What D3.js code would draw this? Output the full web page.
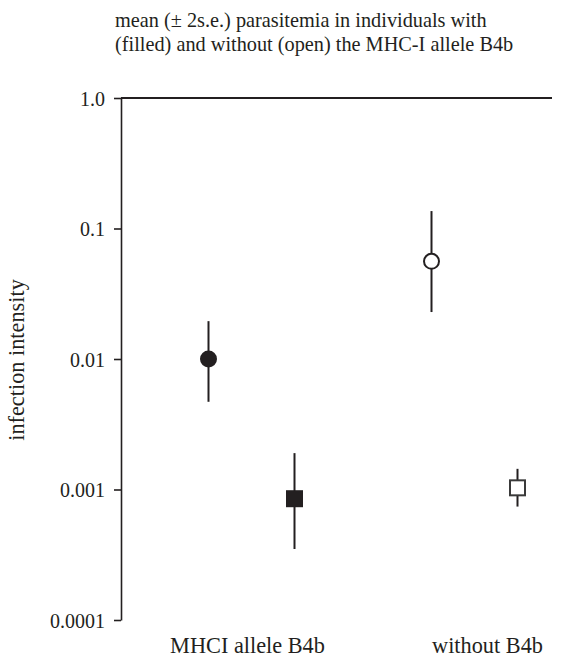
<!DOCTYPE html>
<html><head><meta charset="utf-8">
<script src="https://cdn.jsdelivr.net/npm/d3@7"></script>
<style>body{margin:0;background:#fff}svg{display:block}</style>
</head><body>
<script>
const groups = ["MHCI allele B4b", "without B4b"];
const markers = ["circle", "square"];
const pointGroup = ["MHCI allele B4b", "MHCI allele B4b", "without B4b", "without B4b"];
const pointMarker = ["circle", "square", "circle", "square"];
const pointFilled = [true, true, false, false];
const means = [0.01, 0.00085, 0.056, 0.00103];
const upper = [0.0195, 0.0019, 0.136, 0.00144];
const lower = [0.0047, 0.00035, 0.0229, 0.00074];
const yTicks = [0.0001, 0.001, 0.01, 0.1, 1.0];
const yTickLabels = ["0.0001", "0.001", "0.01", "0.1", "1.0"];
const titleLines = ["mean (\u00B1 2s.e.) parasitemia in individuals with", "(filled) and without (open) the MHC-I allele B4b"];

const W = 573, H = 659, ink = "#231f20", font = '"Liberation Serif","Times New Roman",serif';
const svg = d3.select("body").append("svg").attr("width", W).attr("height", H)
  .attr("font-family", font).attr("fill", ink);

const y = d3.scaleLog().domain([0.0001, 1]).range([620, 98]);
const xg = d3.scaleBand().domain(groups).range([140, 586]);
const xm = d3.scalePoint().domain(markers).range([-43, 43]);
const xl = d3.scalePoint().domain(groups).range([247.5, 487.5]);
const axisX = 121;

// title
svg.append("g").selectAll("text").data(titleLines).join("text")
  .attr("x", 115).attr("y", (d, i) => 27 + i * 24)
  .attr("font-size", 20.3).attr("fill", ink).text(d => d);

// top line
svg.append("line").attr("x1", axisX).attr("x2", 552)
  .attr("y1", y(1)).attr("y2", y(1)).attr("stroke", ink).attr("stroke-width", 2);

// y axis
const ax = svg.append("g").attr("transform", `translate(${axisX},0)`)
  .call(d3.axisLeft(y).tickValues(yTicks).tickFormat((d, i) => yTickLabels[i]).tickSize(7).tickSizeOuter(0).tickPadding(9));
ax.attr("font-family", font);
ax.select(".domain").attr("stroke", ink).attr("stroke-width", 1.6);
ax.selectAll(".tick line").attr("stroke", ink).attr("stroke-width", 1.6);
ax.selectAll(".tick text").attr("font-size", 20).attr("fill", ink).attr("dy", "0.35em");

// y label
svg.append("text").attr("transform", `translate(24,${y(0.01) + 1}) rotate(-90)`)
  .attr("text-anchor", "middle").attr("font-size", 22.3).attr("fill", ink).text("infection intensity");

// x labels
svg.append("g").selectAll("text").data(groups).join("text")
  .attr("x", d => xl(d)).attr("y", 653)
  .attr("text-anchor", "middle").attr("font-size", 22.3).attr("fill", ink).text(d => d);

const px = i => xg(pointGroup[i]) + xg.bandwidth() / 2 + xm(pointMarker[i]);
const idx = d3.range(means.length);

// error bars
svg.append("g").selectAll("line").data(idx).join("line")
  .attr("x1", px).attr("x2", px)
  .attr("y1", i => y(upper[i])).attr("y2", i => y(lower[i]))
  .attr("stroke", ink).attr("stroke-width", 2);

// markers
const g = svg.append("g");
idx.forEach(i => {
  const cx = px(i), cy = y(means[i]), f = pointFilled[i];
  if (pointMarker[i] === "circle") {
    g.append("circle").attr("cx", cx).attr("cy", cy).attr("r", f ? 8.5 : 7.5)
      .attr("fill", f ? ink : "#fff").attr("stroke", ink).attr("stroke-width", f ? 0 : 2);
  } else {
    const s = f ? 17 : 15;
    g.append("rect").attr("x", cx - s / 2).attr("y", cy - s / 2).attr("width", s).attr("height", s)
      .attr("fill", f ? ink : "#fff").attr("stroke", f ? "none" : "#3a3a3a").attr("stroke-width", f ? 0 : 2);
  }
});
</script>
</body></html>
